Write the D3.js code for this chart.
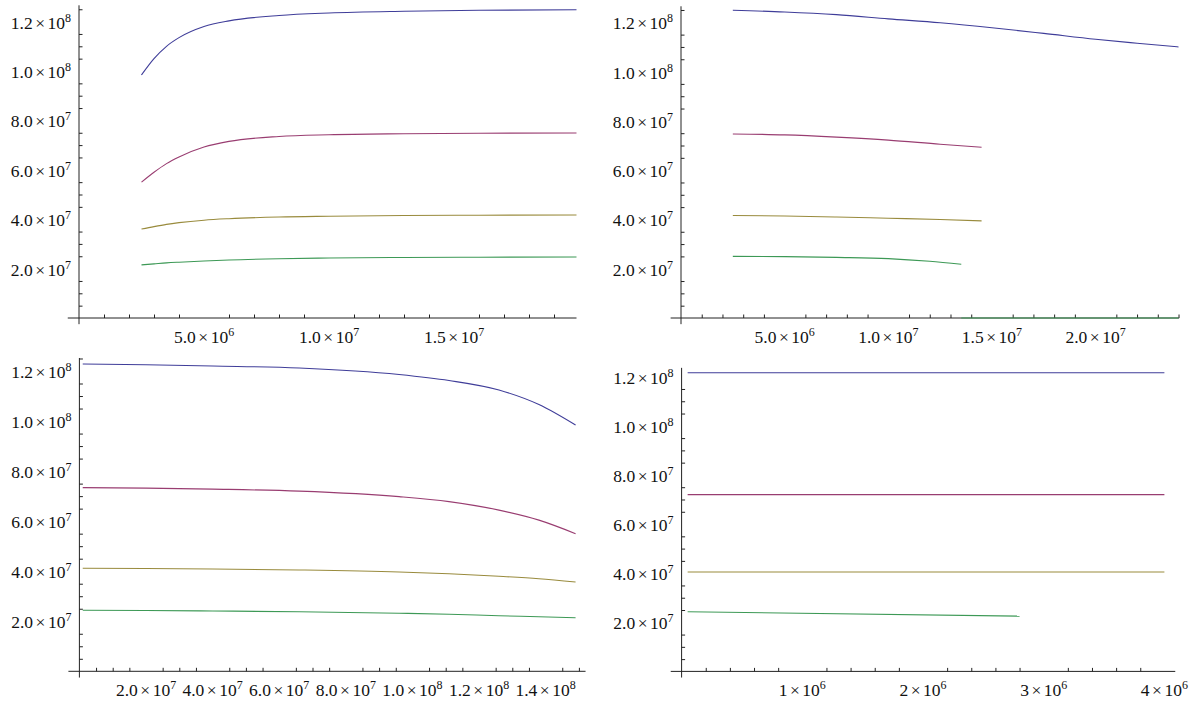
<!DOCTYPE html>
<html>
<head>
<meta charset="utf-8">
<script src="https://cdn.jsdelivr.net/npm/d3@7/dist/d3.min.js"></script>
<style>
  body { margin: 0; background: #fff; }
  svg { display: block; }
</style>
</head>
<body>
<svg id="chart" width="1190" height="705"></svg>
<script>
// series colours (blue, red, gold, green)
var seriesColors = ["#3f3d99", "#993d71", "#998b3d", "#3d9956"];

// y ticks shared by all four panels
var yTicks = [2e7, 4e7, 6e7, 8e7, 1e8, 1.2e8];
var yTickLabels = ["2.0×10^7", "4.0×10^7", "6.0×10^7", "8.0×10^7", "1.0×10^8", "1.2×10^8"];

// panel 1 (top left)
var p1XTicks = [5e6, 1e7, 1.5e7];
var p1XTickLabels = ["5.0×10^6", "1.0×10^7", "1.5×10^7"];
var p1X = [2.5e6, 3.0e6, 3.5e6, 4.0e6, 5.0e6, 6.0e6, 8.0e6, 1.0e7, 1.3e7, 1.6e7, 1.99e7];
var p1Blue  = [9.84e7, 1.05e8, 1.10e8, 1.135e8, 1.18e8, 1.203e8, 1.225e8, 1.235e8, 1.242e8, 1.246e8, 1.248e8];
var p1Red   = [5.5e7, 5.9e7, 6.25e7, 6.52e7, 6.92e7, 7.15e7, 7.35e7, 7.42e7, 7.46e7, 7.48e7, 7.49e7];
var p1Gold  = [3.6e7, 3.7e7, 3.79e7, 3.86e7, 3.96e7, 4.02e7, 4.09e7, 4.12e7, 4.15e7, 4.16e7, 4.17e7];
var p1Green = [2.15e7, 2.19e7, 2.23e7, 2.26e7, 2.31e7, 2.35e7, 2.4e7, 2.43e7, 2.45e7, 2.46e7, 2.47e7];

// panel 2 (top right)
var p2XTicks = [5e6, 1e7, 1.5e7, 2e7];
var p2XTickLabels = ["5.0×10^6", "1.0×10^7", "1.5×10^7", "2.0×10^7"];
var p2XBlue = [2.5e6, 5e6, 7.5e6, 1e7, 1.25e7, 1.5e7, 1.75e7, 2e7, 2.2e7, 2.4e7];
var p2Blue  = [1.249e8, 1.242e8, 1.231e8, 1.214e8, 1.198e8, 1.178e8, 1.155e8, 1.131e8, 1.115e8, 1.10e8];
var p2XMid  = [2.5e6, 5e6, 7.5e6, 1e7, 1.25e7, 1.45e7];
var p2Red   = [7.47e7, 7.43e7, 7.34e7, 7.22e7, 7.05e7, 6.93e7];
var p2Gold  = [4.16e7, 4.14e7, 4.1e7, 4.05e7, 4.0e7, 3.94e7];
var p2XGreen = [2.5e6, 5e6, 7.5e6, 1e7, 1.2e7, 1.352e7];
var p2Green  = [2.5e7, 2.49e7, 2.46e7, 2.41e7, 2.3e7, 2.18e7];
var p2XZero = [1.352e7, 2.4e7];
var p2Zero  = [0, 0];

// panel 3 (bottom left)
var p3XTicks = [2e7, 4e7, 6e7, 8e7, 1e8, 1.2e8, 1.4e8];
var p3XTickLabels = ["2.0×10^7", "4.0×10^7", "6.0×10^7", "8.0×10^7", "1.0×10^8", "1.2×10^8", "1.4×10^8"];
var p3X = [1e6, 2e7, 4e7, 6.6e7, 9.6e7, 1.11e8, 1.26e8, 1.38e8, 1.49e8];
var p3Blue  = [1.228e8, 1.225e8, 1.22e8, 1.212e8, 1.186e8, 1.162e8, 1.124e8, 1.066e8, 0.984e8];
var p3Red   = [7.34e7, 7.32e7, 7.28e7, 7.2e7, 6.98e7, 6.78e7, 6.44e7, 6.04e7, 5.5e7];
var p3Gold  = [4.12e7, 4.11e7, 4.09e7, 4.05e7, 3.97e7, 3.9e7, 3.8e7, 3.7e7, 3.57e7];
var p3Green = [2.44e7, 2.43e7, 2.41e7, 2.38e7, 2.32e7, 2.28e7, 2.22e7, 2.18e7, 2.14e7];

// panel 4 (bottom right)
var p4XTicks = [1e6, 2e6, 3e6, 4e6];
var p4XTickLabels = ["1×10^6", "2×10^6", "3×10^6", "4×10^6"];
var p4X = [5e4, 4e6];
var p4Blue = [1.216e8, 1.216e8];
var p4Red  = [7.2e7, 7.2e7];
var p4Gold = [4.05e7, 4.05e7];
var p4XGreen = [5e4, 2.8e6];
var p4Green  = [2.43e7, 2.25e7];

var svg = d3.select("#chart");
var serif = "'Liberation Serif', 'Times New Roman', Times, serif";

// text like 1.2×10^8 with a raised exponent
function sciLabel(sel, str) {
  var parts = str.split("^");
  var base = parts[0].split("×");
  sel.append("tspan").text(base[0]);
  sel.append("tspan").attr("dx", 2.5).text("×");
  sel.append("tspan").attr("dx", 2.5).text("10");
  sel.append("tspan").attr("dy", -7).attr("font-size", 12).text(parts[1]);
}

function drawPanel(p) {
  var g = svg.append("g");
  var x = d3.scaleLinear().domain(p.xDomain).range(p.xRange);
  var y = d3.scaleLinear().domain([0, 1.2e8]).range(p.yRange);
  var x0 = x(0), y0 = y(0);

  // axis lines
  g.append("line").attr("x1", x(p.xAxis[0])).attr("x2", x(p.xAxis[1]))
    .attr("y1", y0).attr("y2", y0).attr("stroke", "#222").attr("stroke-width", 1);
  g.append("line").attr("x1", x0).attr("x2", x0)
    .attr("y1", y(p.yAxis[0])).attr("y2", y(p.yAxis[1])).attr("stroke", "#222").attr("stroke-width", 1);

  // ticks (pointing into the plot)
  var xMinor = d3.range(p.xMinor, p.xAxis[1], p.xMinor).filter(function(v) {
    return !p.xTicks.some(function(t) { return Math.abs(t - v) < p.xMinor / 10; });
  });
  var yMinor = d3.range(5e6, p.yAxis[1], 5e6).filter(function(v) {
    return !yTicks.some(function(t) { return Math.abs(t - v) < 5e5; });
  });
  var ax = g.append("g").attr("transform", "translate(0," + y0 + ")");
  ax.call(d3.axisBottom(x).tickValues(p.xTicks).tickSize(-6).tickFormat(""));
  ax.call(d3.axisBottom(x).tickValues(xMinor).tickSize(-3.5).tickFormat(""));
  var ay = g.append("g").attr("transform", "translate(" + x0 + ",0)");
  ay.call(d3.axisLeft(y).tickValues(yTicks).tickSize(-6).tickFormat(""));
  ay.call(d3.axisLeft(y).tickValues(yMinor).tickSize(-3.5).tickFormat(""));
  g.selectAll(".domain").remove();
  g.selectAll(".tick line").attr("stroke", "#222");

  // curves
  var line = d3.line().x(function(d) { return x(d[0]); }).y(function(d) { return y(d[1]); })
    .curve(d3.curveMonotoneX);
  p.series.forEach(function(s) {
    g.append("path")
      .datum(d3.zip(s.x, s.y))
      .attr("fill", "none")
      .attr("stroke", seriesColors[s.c])
      .attr("stroke-width", 1.1)
      .attr("d", line);
  });

  // labels
  p.xTicks.forEach(function(t, i) {
    g.append("text").attr("x", x(t)).attr("y", y0 + 25)
      .attr("text-anchor", "middle").attr("font-size", 17.5)
      .attr("font-family", serif).attr("fill", "#111")
      .call(sciLabel, p.xLabels[i]);
  });
  yTicks.forEach(function(t, i) {
    g.append("text").attr("x", x0 - 8).attr("y", y(t) + 7)
      .attr("text-anchor", "end").attr("font-size", 17.5)
      .attr("font-family", serif).attr("fill", "#111")
      .call(sciLabel, yTickLabels[i]);
  });
}

drawPanel({
  xDomain: [0, 2e7], xRange: [79, 579], yRange: [318, 21.6],
  xAxis: [-0.45e6, 1.99e7], yAxis: [-0.25e7, 1.266e8],
  xTicks: p1XTicks, xLabels: p1XTickLabels, xMinor: 1e6,
  series: [
    { x: p1X, y: p1Blue, c: 0 }, { x: p1X, y: p1Red, c: 1 },
    { x: p1X, y: p1Gold, c: 2 }, { x: p1X, y: p1Green, c: 3 }
  ]
});

drawPanel({
  xDomain: [0, 2e7], xRange: [681, 1095.6], yRange: [318, 22.3],
  xAxis: [-0.5e6, 2.403e7], yAxis: [-0.25e7, 1.265e8],
  xTicks: p2XTicks, xLabels: p2XTickLabels, xMinor: 1e6,
  series: [
    { x: p2XBlue, y: p2Blue, c: 0 }, { x: p2XMid, y: p2Red, c: 1 },
    { x: p2XMid, y: p2Gold, c: 2 }, { x: p2XGreen, y: p2Green, c: 3 },
    { x: p2XZero, y: p2Zero, c: 3 }
  ]
});

drawPanel({
  xDomain: [0, 1.4e8], xRange: [79.4, 545.6], yRange: [671.3, 371],
  xAxis: [-3.3e6, 1.52e8], yAxis: [-0.25e7, 1.252e8],
  xTicks: p3XTicks, xLabels: p3XTickLabels, xMinor: 5e6,
  series: [
    { x: p3X, y: p3Blue, c: 0 }, { x: p3X, y: p3Red, c: 1 },
    { x: p3X, y: p3Gold, c: 2 }, { x: p3X, y: p3Green, c: 3 }
  ]
});

drawPanel({
  xDomain: [0, 4e6], xRange: [681.6, 1164.4], yRange: [671.4, 376.7],
  xAxis: [-0.09e6, 4.09e6], yAxis: [-0.25e7, 1.236e8],
  xTicks: p4XTicks, xLabels: p4XTickLabels, xMinor: 2e5,
  series: [
    { x: p4X, y: p4Blue, c: 0 }, { x: p4X, y: p4Red, c: 1 },
    { x: p4X, y: p4Gold, c: 2 }, { x: p4XGreen, y: p4Green, c: 3 }
  ]
});
</script>
</body>
</html>
